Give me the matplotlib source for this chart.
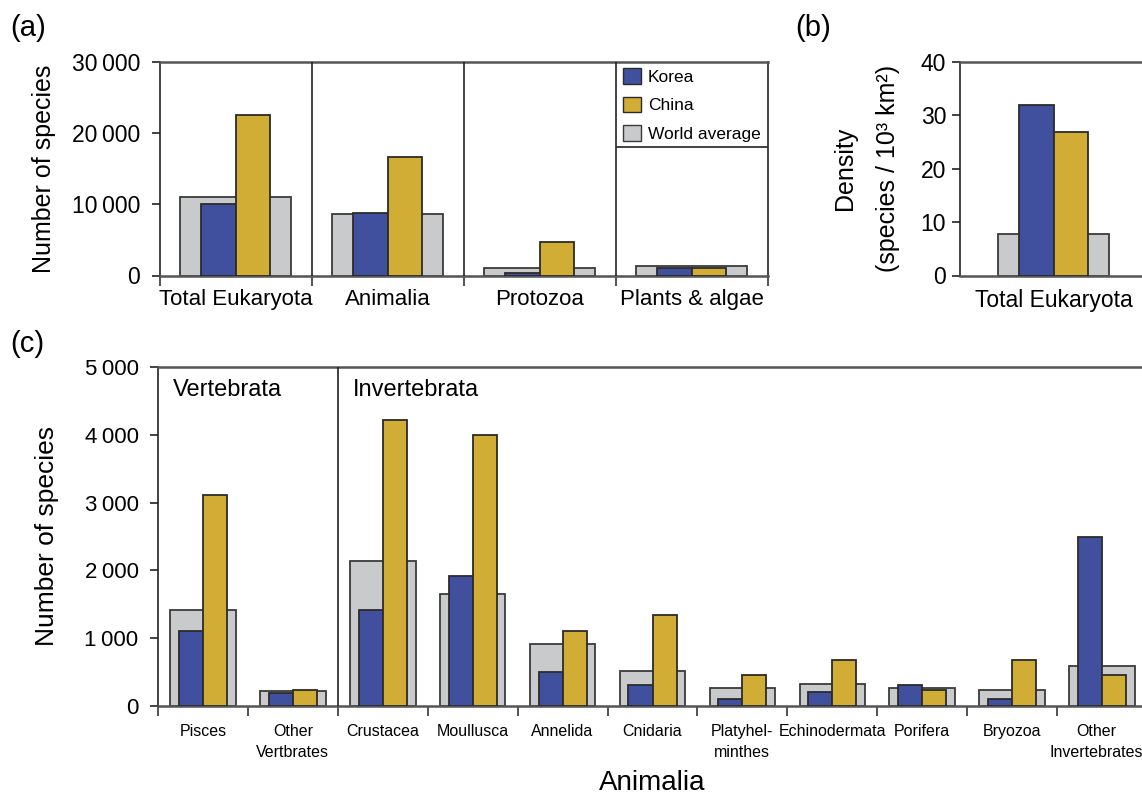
"""
Species richness: Korea vs China vs world average
(a) major groups, (b) density, (c) Animalia breakdown
"""

import matplotlib.pyplot as plt
from matplotlib.patches import Patch
from matplotlib.ticker import FixedLocator, FuncFormatter
from matplotlib.transforms import ScaledTranslation

plt.rcParams["font.family"] = ["Liberation Sans", "DejaVu Sans"]

# ---------------------------------------------------------------------------
# Data
# ---------------------------------------------------------------------------

groups_a = ["Total Eukaryota", "Animalia", "Protozoa", "Plants & algae"]
korea_a = [10100, 8800, 370, 1000]
china_a = [22600, 16700, 4680, 1030]
world_a = [11000, 8680, 1000, 1330]

groups_b = ["Total Eukaryota"]
korea_b = [32.0]
china_b = [26.8]
world_b = [7.7]

groups_c = ["Pisces", "Other\nVertbrates", "Crustacea", "Moullusca", "Annelida",
            "Cnidaria", "Platyhel-\nminthes", "Echinodermata", "Porifera",
            "Bryozoa", "Other\nInvertebrates"]
korea_c = [1110, 190, 1410, 1920, 500, 310, 110, 210, 310, 110, 2500]
china_c = [3110, 235, 4220, 4000, 1110, 1340, 450, 680, 230, 680, 450]
world_c = [1410, 215, 2140, 1650, 910, 520, 270, 330, 270, 230, 590]

C_KOREA = "#40509e"
C_CHINA = "#d2ad35"
C_WORLD = "#c9cacc"
EDGE = "#2b2b2b"


def thin_thousands(v, pos):
    v = int(round(v))
    if v >= 1000:
        return f"{v // 1000}\u2009{v % 1000:03d}"
    return str(v)


def draw_bars(ax, korea, china, world, w_world, w_pair):
    x = list(range(len(korea)))
    ax.bar(x, world, width=w_world, color=C_WORLD, edgecolor="#3a3a3a",
           linewidth=1.3, zorder=2)
    ax.bar([i - w_pair / 2 for i in x], korea, width=w_pair, color=C_KOREA,
           edgecolor=EDGE, linewidth=1.3, zorder=3)
    ax.bar([i + w_pair / 2 for i in x], china, width=w_pair, color=C_CHINA,
           edgecolor=EDGE, linewidth=1.3, zorder=3)
    return x


def style_axes(ax, n, labels, tick_fs, label_pad, linespacing=1.2):
    ax.set_xlim(-0.5, n - 0.5)
    ax.set_xticks(range(n))
    ax.set_xticklabels(labels, fontsize=tick_fs, linespacing=linespacing)
    ax.xaxis.set_minor_locator(FixedLocator([i - 0.5 for i in range(n + 1)]))
    ax.tick_params(axis="x", which="major", length=0, pad=label_pad)
    ax.tick_params(axis="x", which="minor", length=7, width=1.3, color="#444")
    ax.tick_params(axis="y", direction="out", length=6, width=1.2,
                   color="#222", pad=8)
    ax.spines["top"].set_color("#555")
    ax.spines["top"].set_linewidth(1.8)
    ax.spines["bottom"].set_color("#555")
    ax.spines["bottom"].set_linewidth(1.8)
    ax.spines["left"].set_color("#222")
    ax.spines["left"].set_linewidth(1.2)
    ax.spines["right"].set_color("#222")
    ax.spines["right"].set_linewidth(1.2)


W, H = 1142, 798
fig = plt.figure(figsize=(W / 100, H / 100), dpi=100)


def px_axes(left, right, top, bottom):
    return fig.add_axes([left / W, 1 - bottom / H, (right - left) / W,
                         (bottom - top) / H])


# ---------------------------------------------------------------------------
# (a)
# ---------------------------------------------------------------------------
ax_a = px_axes(159.5, 767.5, 62, 275.5)
draw_bars(ax_a, korea_a, china_a, world_a, 0.73, 0.23)
style_axes(ax_a, len(groups_a), groups_a, 16, 10)
ax_a.set_ylim(0, 30000)
ax_a.set_yticks([0, 10000, 20000, 30000])
ax_a.yaxis.set_major_formatter(FuncFormatter(thin_thousands))
ax_a.tick_params(axis="y", labelsize=16.5)
for b in [0.5, 1.5, 2.5]:
    ax_a.axvline(b, color="#222", linewidth=1.2, zorder=4)
ax_a.hlines(18000, 2.5, 3.5, color="#333", linewidth=1.3, zorder=4)
ax_a.set_ylabel("Number of species", fontsize=18)
ax_a.yaxis.set_label_coords(-0.17, 0.5)

handles = [Patch(facecolor=C_KOREA, edgecolor=EDGE, label="Korea"),
           Patch(facecolor=C_CHINA, edgecolor=EDGE, label="China"),
           Patch(facecolor=C_WORLD, edgecolor="#3a3a3a", label="World average")]
ax_a.legend(handles=handles, loc="upper left", bbox_to_anchor=(0.762, 0.972),
            frameon=False, fontsize=12.5, handlelength=1.05, handleheight=1.0,
            handletextpad=0.4, labelspacing=0.69, borderpad=0, borderaxespad=0)

# ---------------------------------------------------------------------------
# (b)
# ---------------------------------------------------------------------------
ax_b = px_axes(960, 1147, 62, 275.5)
draw_bars(ax_b, korea_b, china_b, world_b, 0.594, 0.184)
style_axes(ax_b, len(groups_b), groups_b, 16.5, 10)
ax_b.xaxis.set_minor_locator(FixedLocator([]))
ax_b.set_ylim(0, 40)
ax_b.set_yticks([0, 10, 20, 30, 40])
ax_b.tick_params(axis="y", labelsize=16.5, pad=4)
ax_b.set_ylabel("Density\n(species / 10³ km²)", fontsize=18, linespacing=2.0)
ax_b.yaxis.set_label_coords(-0.32, 0.5)

# ---------------------------------------------------------------------------
# (c)
# ---------------------------------------------------------------------------
ax_c = px_axes(158, 1147, 367, 706)
draw_bars(ax_c, korea_c, china_c, world_c, 0.73, 0.267)
style_axes(ax_c, len(groups_c), groups_c, 11.5, 13, linespacing=1.5)
ax_c.set_ylim(0, 5000)
ax_c.set_yticks(range(0, 5001, 1000))
ax_c.yaxis.set_major_formatter(FuncFormatter(thin_thousands))
ax_c.tick_params(axis="y", labelsize=16)
ax_c.axvline(1.5, color="#222", linewidth=1.2, zorder=4)
ax_c.text(-0.33, 4660, "Vertebrata", fontsize=17, va="center", ha="left")
ax_c.text(1.67, 4660, "Invertebrata", fontsize=17, va="center", ha="left")
ax_c.set_ylabel("Number of species", fontsize=19)
ax_c.yaxis.set_label_coords(-0.10, 0.5)
ax_c.set_xlabel("Animalia", fontsize=20, labelpad=7)

# the last label runs into the figure edge; nudge it in a little
last = ax_c.get_xticklabels()[-1]
last.set_transform(last.get_transform()
                   + ScaledTranslation(-6 / 100, 0, fig.dpi_scale_trans))

fig.text(10 / W, 1 - 28 / H, "(a)", fontsize=21, va="center", ha="left")
fig.text(795 / W, 1 - 28 / H, "(b)", fontsize=21, va="center", ha="left")
fig.text(10 / W, 1 - 344 / H, "(c)", fontsize=21, va="center", ha="left")

fig.savefig("out.png", dpi=100)
